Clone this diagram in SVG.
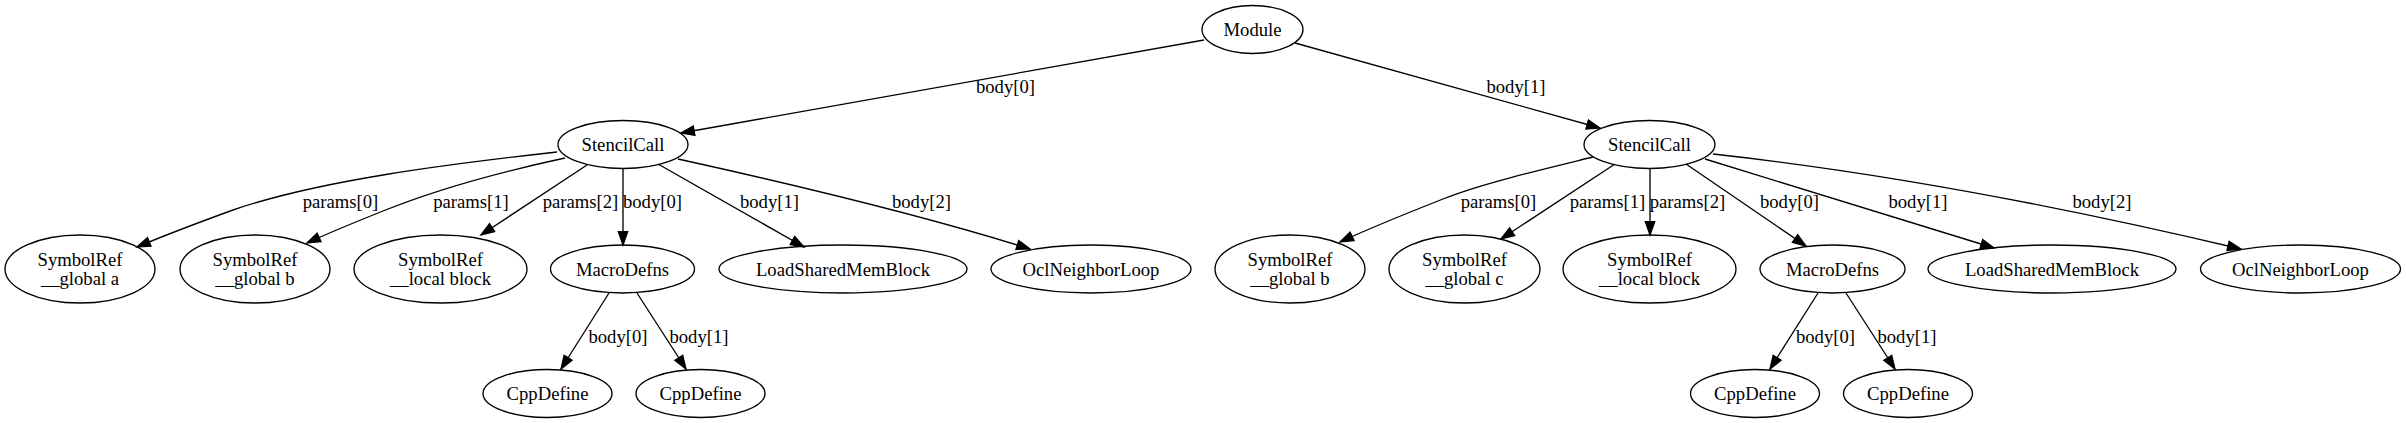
<svg xmlns="http://www.w3.org/2000/svg" width="2406" height="423" viewBox="0 0 2406 423">
<style>
.n ellipse{fill:none;stroke:#000;stroke-width:1.33}
text{font-family:"Liberation Serif","Times New Roman",serif;font-size:18.67px;fill:#000;text-anchor:middle}
.e path{fill:none;stroke:#000;stroke-width:1.33;marker-end:url(#ah)}
</style>
<defs>
<marker id="ah" markerUnits="userSpaceOnUse" viewBox="0 0 16 12" markerWidth="16" markerHeight="12" refX="14.3" refY="6" orient="auto">
<path d="M1,1.33 L14.3,6 L1,10.67 Z" fill="#000" stroke="#000" stroke-width="1.33"/>
</marker>
</defs>
<rect width="2406" height="423" fill="#fff"/>
<g id="edges" class="e">
<path d="M1204,40 L681,133"/>
<path d="M1295,43 L1600,128"/>
<path d="M557,152 C450,164 320,180 233,210 C200,222 168,234 137,247"/>
<path d="M565,158 C500,172 440,188 383,211 C358,221 333,231 307,243"/>
<path d="M587,165 L481,235"/>
<path d="M623,168.5 L623,245"/>
<path d="M658,164 L804,247"/>
<path d="M678,159 Q900,208 1030,249"/>
<path d="M609,293 L561,369"/>
<path d="M637,293 L686,369"/>
<path d="M1593,157 C1540,170 1480,184 1443,199 C1405,214 1370,228 1340,242"/>
<path d="M1615,164 L1501,239"/>
<path d="M1650,168.5 L1650,235"/>
<path d="M1686,164 L1806,246"/>
<path d="M1705,159 L1994,248"/>
<path d="M1713,154 Q1950,180 2241,249"/>
<path d="M1818,293 L1770,369"/>
<path d="M1846,293 L1895,369"/>
</g>
<g id="edge-labels">
<text x="1005.5" y="93">body[0]</text>
<text x="1516" y="93">body[1]</text>
<text x="340.5" y="208">params[0]</text>
<text x="471" y="208">params[1]</text>
<text x="580.5" y="208">params[2]</text>
<text x="652.5" y="208">body[0]</text>
<text x="769.5" y="208">body[1]</text>
<text x="921.5" y="208">body[2]</text>
<text x="1498.5" y="208">params[0]</text>
<text x="1607.5" y="208">params[1]</text>
<text x="1687.5" y="208">params[2]</text>
<text x="1789.5" y="208">body[0]</text>
<text x="1918" y="208">body[1]</text>
<text x="2102" y="208">body[2]</text>
<text x="618" y="343">body[0]</text>
<text x="699" y="343">body[1]</text>
<text x="1825.5" y="343">body[0]</text>
<text x="1907" y="343">body[1]</text>
</g>
<g id="module" class="n"><ellipse cx="1252.5" cy="29.5" rx="50.5" ry="24"/><text x="1252.5" y="36">Module</text></g>
<g id="stencil1" class="n"><ellipse cx="623" cy="144.5" rx="65" ry="24"/><text x="623" y="151">StencilCall</text></g>
<g id="stencil2" class="n"><ellipse cx="1649.5" cy="144.5" rx="65.5" ry="24"/><text x="1649.5" y="151">StencilCall</text></g>
<g id="sym1a" class="n"><ellipse cx="80" cy="269" rx="75" ry="34"/><text x="80" y="266">SymbolRef</text><text x="80" y="284.5">__global a</text></g>
<g id="sym1b" class="n"><ellipse cx="255" cy="269" rx="75" ry="34"/><text x="255" y="266">SymbolRef</text><text x="255" y="284.5">__global b</text></g>
<g id="sym1c" class="n"><ellipse cx="440.5" cy="269" rx="86.5" ry="34"/><text x="440.5" y="266">SymbolRef</text><text x="440.5" y="284.5">__local block</text></g>
<g id="macro1" class="n"><ellipse cx="622.5" cy="269" rx="72" ry="24"/><text x="622.5" y="275.5">MacroDefns</text></g>
<g id="load1" class="n"><ellipse cx="843" cy="269" rx="124" ry="24"/><text x="843" y="275.5">LoadSharedMemBlock</text></g>
<g id="ocl1" class="n"><ellipse cx="1091" cy="269" rx="100" ry="24"/><text x="1091" y="275.5">OclNeighborLoop</text></g>
<g id="sym2a" class="n"><ellipse cx="1290" cy="269" rx="75" ry="34"/><text x="1290" y="266">SymbolRef</text><text x="1290" y="284.5">__global b</text></g>
<g id="sym2b" class="n"><ellipse cx="1464.5" cy="269" rx="75.5" ry="34"/><text x="1464.5" y="266">SymbolRef</text><text x="1464.5" y="284.5">__global c</text></g>
<g id="sym2c" class="n"><ellipse cx="1649.5" cy="269" rx="86.5" ry="34"/><text x="1649.5" y="266">SymbolRef</text><text x="1649.5" y="284.5">__local block</text></g>
<g id="macro2" class="n"><ellipse cx="1832.5" cy="269" rx="72.5" ry="24"/><text x="1832.5" y="275.5">MacroDefns</text></g>
<g id="load2" class="n"><ellipse cx="2052" cy="269" rx="124" ry="24"/><text x="2052" y="275.5">LoadSharedMemBlock</text></g>
<g id="ocl2" class="n"><ellipse cx="2300.5" cy="269" rx="100" ry="24"/><text x="2300.5" y="275.5">OclNeighborLoop</text></g>
<g id="cpp1a" class="n"><ellipse cx="547.5" cy="393.5" rx="64.5" ry="24"/><text x="547.5" y="400">CppDefine</text></g>
<g id="cpp1b" class="n"><ellipse cx="700.5" cy="393.5" rx="64.5" ry="24"/><text x="700.5" y="400">CppDefine</text></g>
<g id="cpp2a" class="n"><ellipse cx="1755" cy="393.5" rx="64.5" ry="24"/><text x="1755" y="400">CppDefine</text></g>
<g id="cpp2b" class="n"><ellipse cx="1908" cy="393.5" rx="64.5" ry="24"/><text x="1908" y="400">CppDefine</text></g>
</svg>
